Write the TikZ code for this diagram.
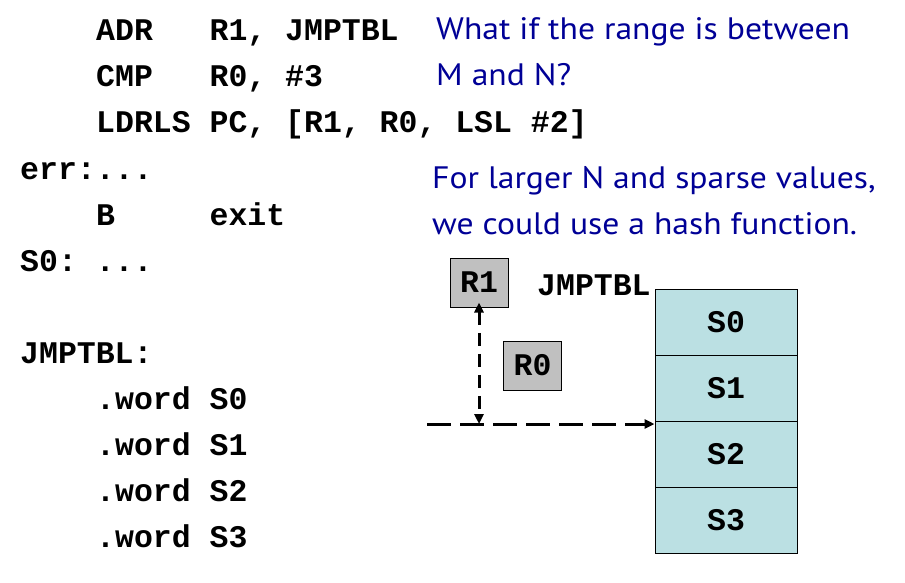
\documentclass[tikz,border=0pt]{standalone}
\usepackage{fontspec}
\setmonofont{Liberation Mono}
\newfontfamily\notefont[FakeStretch=1.085]{PT Sans}
\usetikzlibrary{arrows.meta}
\definecolor{notecol}{RGB}{0,0,150}
\definecolor{cellcol}{RGB}{187,224,227}
\definecolor{regcol}{RGB}{192,192,192}
\tikzset{
  code/.style={anchor=base west,inner sep=0pt,font=\ttfamily\bfseries\fontsize{31.5}{31.5}\selectfont},
  note/.style={anchor=base west,inner sep=0pt,text=notecol,font=\notefont\fontsize{31}{31}\selectfont},
  cell/.style={draw=black,line width=1pt,fill=cellcol,minimum width=142pt,minimum height=66pt,inner sep=0pt,font=\ttfamily\bfseries\fontsize{31.5}{31.5}\selectfont},
  reg/.style={draw=black,line width=1pt,fill=regcol,minimum width=58pt,minimum height=49pt,inner sep=0pt,font=\ttfamily\bfseries\fontsize{31.5}{31.5}\selectfont},
  ptr/.style={line width=3pt,-{Triangle[length=10pt,width=9pt]}}
}
\begin{document}
\begin{tikzpicture}[x=1pt,y=-1pt]
\useasboundingbox (0,0) rectangle (905,583);
% code
\node[code] (l1) at (96,41) {ADR\ \ \ R1, JMPTBL};
\node[code] (l2) at (96,87) {CMP\ \ \ R0, \#3};
\node[code] (l3) at (96,133) {LDRLS PC, [R1, R0, LSL \#2]};
\node[code] (l4) at (20,179) {err:...};
\node[code] (l5) at (96,225) {B\ \ \ \ \ exit};
\node[code] (l6) at (20,271) {S0: ...};
\node[code] (l7) at (20,363) {JMPTBL:};
\node[code] (l8) at (96,409) {.word S0};
\node[code] (l9) at (96,455) {.word S1};
\node[code] (l10) at (96,501) {.word S2};
\node[code] (l11) at (96,547) {.word S3};
% notes
\node[note] (n1) at (436,40) {What if the range is between};
\node[note] (n2) at (436,86) {M and N?};
\node[note] (n3) at (432,188) {For larger N and sparse values,};
\node[note] (n4) at (432,234) {we could use a hash function.};
% table
\node[cell] (s0) at (726,322) {S0};
\node[cell] (s1) at (726,388) {S1};
\node[cell] (s2) at (726,454) {S2};
\node[cell] (s3) at (726,520) {S3};
\node[code] (jt) at (537,295) {JMPTBL};
% registers
\node[reg] (r1) at (479,282.5) {R1};
\node[reg] (r0) at (532.5,365.5) {R0};
% pointers
\coordinate (start) at (427,424);
\coordinate (tgt) at (s2.north west |- start);
\coordinate (mid) at (r1.south |- start);
\draw[ptr,dash pattern=on 24pt off 9pt] (start) -- (tgt);
\draw[line width=3pt,{Triangle[length=10pt,width=9pt]}-{Triangle[length=10pt,width=9pt]},dash pattern=on 13pt off 8pt] ([yshift=5pt]r1.south) -- (mid);
\end{tikzpicture}
\end{document}
